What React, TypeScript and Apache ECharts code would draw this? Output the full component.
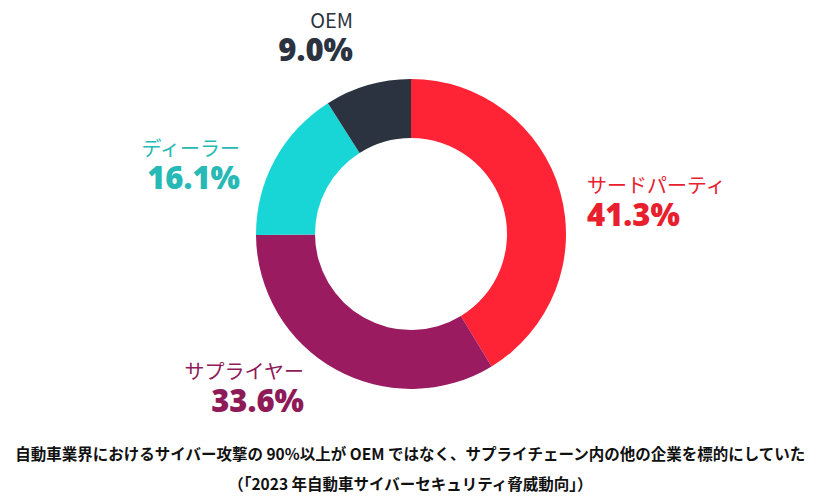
import React, { useEffect, useRef } from "react";
import * as echarts from "echarts";

const categories = ["サードパーティ", "サプライヤー", "ディーラー", "OEM"];
const values = [41.3, 33.6, 16.1, 9.0];
const sliceColors = ["#fe2436", "#9b1b60", "#19d6d6", "#2b3340"];
const textColors = ["#e8202e", "#8e1a58", "#26b9b5", "#2b3340"];
// label anchor positions [x, y, align]
const labelPos: [number, number, string][] = [
  [587, 201, "left"],
  [304, 387, "right"],
  [240, 164, "right"],
  [353, 36, "right"],
];
const captionLines = [
  "自動車業界におけるサイバー攻撃の 90%以上が OEM ではなく、サプライチェーン内の他の企業を標的にしていた",
  "（「2023 年自動車サイバーセキュリティ脅威動向」）",
];

export default function App() {
  const ref = useRef<HTMLDivElement>(null);
  useEffect(() => {
    if (!ref.current) return;
    const chart = echarts.init(ref.current, undefined, { renderer: "svg" });
    chart.setOption({
      animation: false,
      backgroundColor: "#ffffff",
      series: [
        {
          type: "pie",
          center: [411, 234],
          radius: [96, 155],
          startAngle: 90,
          clockwise: true,
          silent: true,
          itemStyle: { borderWidth: 0 },
          labelLine: { show: false },
          data: categories.map((c, i) => ({
            name: c,
            value: values[i],
            itemStyle: { color: sliceColors[i] },
            label: {
              show: true,
              position: "outside",
              formatter: `{n|${c}}\n{v|${values[i].toFixed(1)}%}`,
              rich: {
                n: {
                  fontFamily: "Noto Sans CJK JP",
                  fontSize: 20,
                  fontWeight: "normal",
                  color: textColors[i],
                  lineHeight: 26,
                  align: labelPos[i][2],
                },
                v: {
                  fontFamily: "Open Sans",
                  fontSize: 31,
                  fontWeight: 800,
                  color: textColors[i],
                  lineHeight: 34,
                  align: labelPos[i][2],
                },
              },
            },
          })),
          labelLayout: (params: any) => {
            const p = labelPos[params.dataIndex];
            return { x: p[0], y: p[1], align: p[2], verticalAlign: "middle" };
          },
        },
      ],
      graphic: captionLines.map((t, i) => ({
        type: "text",
        left: "center",
        top: 445 + i * 30,
        style: {
          text: t,
          fontFamily: "Noto Sans CJK JP",
          fontSize: 15.5,
          fontWeight: "bold",
          fill: "#111111",
        },
      })),
    });
    return () => chart.dispose();
  }, []);
  return (
    <div
      ref={ref}
      style={{ position: "absolute", left: 0, top: 0, width: 822, height: 503 }}
    />
  );
}
